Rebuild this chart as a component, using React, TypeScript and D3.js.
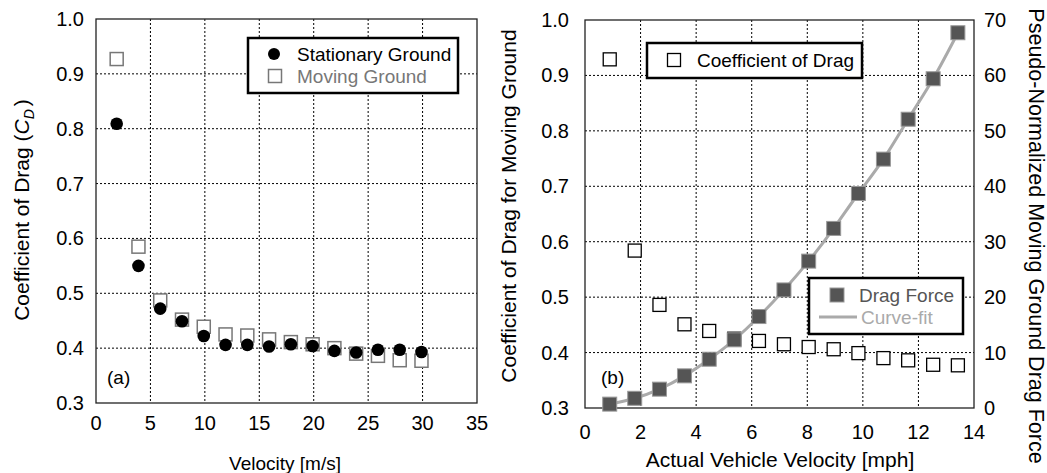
import React from 'react';
import * as d3 from 'd3';

// panel (a): velocity in m/s
const velocityMs = [1.9, 3.9, 5.9, 7.9, 9.9, 11.9, 13.9, 15.9, 17.9, 19.9, 21.9, 23.9, 25.9, 27.9, 29.9];
const cdStationary = [0.809, 0.55, 0.472, 0.449, 0.422, 0.406, 0.406, 0.403, 0.407, 0.404, 0.395, 0.392, 0.397, 0.397, 0.393];
const cdMovingA = [0.927, 0.585, 0.487, 0.452, 0.439, 0.425, 0.423, 0.416, 0.411, 0.407, 0.4, 0.39, 0.386, 0.378, 0.377];

// panel (b): velocity in mph
const velocityMph = [0.89, 1.79, 2.68, 3.58, 4.47, 5.37, 6.26, 7.16, 8.05, 8.95, 9.84, 10.74, 11.63, 12.53, 13.42];
const cdMovingB = [0.929, 0.584, 0.486, 0.451, 0.439, 0.425, 0.421, 0.415, 0.41, 0.406, 0.399, 0.39, 0.386, 0.378, 0.377];
const dragForce = [0.7, 1.75, 3.4, 5.8, 8.8, 12.3, 16.5, 21.3, 26.5, 32.4, 38.7, 44.9, 52.1, 59.4, 67.7];

const cdTicks = [0.3, 0.4, 0.5, 0.6, 0.7, 0.8, 0.9, 1.0];
const msTicks = [0, 5, 10, 15, 20, 25, 30, 35];
const mphTicks = [0, 2, 4, 6, 8, 10, 12, 14];
const forceTicks = [0, 10, 20, 30, 40, 50, 60, 70];

const FONT = "'Liberation Sans', Arial, sans-serif";
const GRID = { stroke: '#000', strokeWidth: 1, strokeDasharray: '2,2' };

const Square = ({ x, y, s = 13, fill, stroke, sw }: any) => (
  <rect x={x - s / 2} y={y - s / 2} width={s} height={s} fill={fill} stroke={stroke} strokeWidth={sw} />
);

export default function App() {
  // left panel scales
  const xa = d3.scaleLinear().domain([0, 35]).range([96, 477]);
  const ya = d3.scaleLinear().domain([0.3, 1.0]).range([403, 19]);
  // right panel scales
  const xb = d3.scaleLinear().domain([0, 14]).range([585, 974]);
  const yb = d3.scaleLinear().domain([0.3, 1.0]).range([408, 20]);
  const yf = d3.scaleLinear().domain([0, 70]).range([408, 20]);

  const fit = d3
    .line<number>()
    .x((_, i) => xb(velocityMph[i]))
    .y((d) => yf(d))
    .curve(d3.curveNatural)(dragForce);

  return (
    <svg width={1047} height={473} style={{ position: 'absolute', left: 0, top: 0, background: '#fff' }} fontFamily={FONT}>
      {/* ---------- panel (a) ---------- */}
      <g>
        {msTicks.slice(1, -1).map((t) => (
          <line key={'ga' + t} x1={xa(t)} x2={xa(t)} y1={19} y2={403} {...GRID} />
        ))}
        {cdTicks.slice(1, -1).map((t) => (
          <line key={'gya' + t} x1={96} x2={477} y1={ya(t)} y2={ya(t)} {...GRID} />
        ))}
        <rect x={96} y={19} width={381} height={384} fill="none" stroke="#222" strokeWidth={1.3} />
        {cdTicks.map((t) => (
          <text key={'ya' + t} x={84} y={ya(t) + 7} fontSize={20} textAnchor="end">
            {d3.format('.1f')(t)}
          </text>
        ))}
        {msTicks.map((t) => (
          <text key={'xa' + t} x={xa(t)} y={430} fontSize={20} textAnchor="middle">
            {t}
          </text>
        ))}
        <text x={285} y={470} fontSize={19} textAnchor="middle">Velocity [m/s]</text>
        <text transform="translate(29,210) rotate(-90)" fontSize={21} textAnchor="middle">
          Coefficient of Drag (<tspan fontStyle="italic">C</tspan>
          <tspan fontStyle="italic" fontSize={14} dy={5}>D</tspan>
          <tspan dy={-5} dx={3}>)</tspan>
        </text>

        {velocityMs.map((v, i) => (
          <Square key={'ma' + i} x={xa(v)} y={ya(cdMovingA[i])} fill="#fff" stroke="#777" sw={1.5} />
        ))}
        {velocityMs.map((v, i) => (
          <circle key={'sa' + i} cx={xa(v)} cy={ya(cdStationary[i])} r={6.3} fill="#000" />
        ))}
        <text x={107} y={384} fontSize={19}>(a)</text>

        <rect x={248} y={38} width={210} height={55} fill="#fff" stroke="#000" strokeWidth={2.5} />
        <circle cx={274} cy={54} r={6} fill="#000" />
        <text x={297} y={61} fontSize={19}>Stationary Ground</text>
        <Square x={275} y={76} fill="#fff" stroke="#777" sw={1.5} />
        <text x={297} y={83} fontSize={19} fill="#777">Moving Ground</text>
      </g>

      {/* ---------- panel (b) ---------- */}
      <g>
        {mphTicks.slice(1, -1).map((t) => (
          <line key={'gb' + t} x1={xb(t)} x2={xb(t)} y1={20} y2={408} {...GRID} />
        ))}
        {cdTicks.slice(1, -1).map((t) => (
          <line key={'gyb' + t} x1={585} x2={974} y1={yb(t)} y2={yb(t)} {...GRID} />
        ))}
        <rect x={585} y={20} width={389} height={388} fill="none" stroke="#222" strokeWidth={1.3} />
        {cdTicks.map((t) => (
          <text key={'yb' + t} x={569} y={yb(t) + 7} fontSize={20} textAnchor="end">
            {d3.format('.1f')(t)}
          </text>
        ))}
        {forceTicks.map((t) => (
          <text key={'yf' + t} x={984} y={yf(t) + 7} fontSize={20} textAnchor="start">
            {t}
          </text>
        ))}
        {mphTicks.map((t) => (
          <text key={'xb' + t} x={xb(t)} y={439} fontSize={20} textAnchor="middle">
            {t}
          </text>
        ))}
        <text x={780} y={467} fontSize={21} textAnchor="middle">Actual Vehicle Velocity [mph]</text>
        <text transform="translate(516,206) rotate(-90)" fontSize={21} textAnchor="middle">
          Coefficient of Drag for Moving Ground
        </text>
        <text transform="translate(1029,236) rotate(90)" fontSize={21.5} textAnchor="middle">
          Pseudo-Normalized Moving Ground Drag Force
        </text>

        {velocityMph.map((v, i) => (
          <Square key={'cb' + i} x={xb(v)} y={yb(cdMovingB[i])} fill="#fff" stroke="#000" sw={1.3} />
        ))}
        <path d={fit || ''} fill="none" stroke="#aaa" strokeWidth={3} />
        {velocityMph.map((v, i) => (
          <Square key={'fb' + i} x={xb(v)} y={yf(dragForce[i])} s={14} fill="#555" stroke="#999" sw={1} />
        ))}
        <text x={601} y={384} fontSize={19}>(b)</text>

        <rect x={647} y={43} width={215} height={35} fill="#fff" stroke="#000" strokeWidth={2.5} />
        <Square x={674} y={60} fill="#fff" stroke="#000" sw={1.3} />
        <text x={697} y={67} fontSize={19}>Coefficient of Drag</text>

        <rect x={809} y={278} width={154} height={56} fill="#fff" stroke="#000" strokeWidth={2.5} />
        <Square x={837} y={295} s={14} fill="#555" stroke="#999" sw={1} />
        <text x={859} y={302} fontSize={19} fill="#555">Drag Force</text>
        <line x1={819} x2={857} y1={317} y2={317} stroke="#aaa" strokeWidth={3} />
        <text x={861} y={324} fontSize={19} fill="#aaa">Curve-fit</text>
      </g>
    </svg>
  );
}
